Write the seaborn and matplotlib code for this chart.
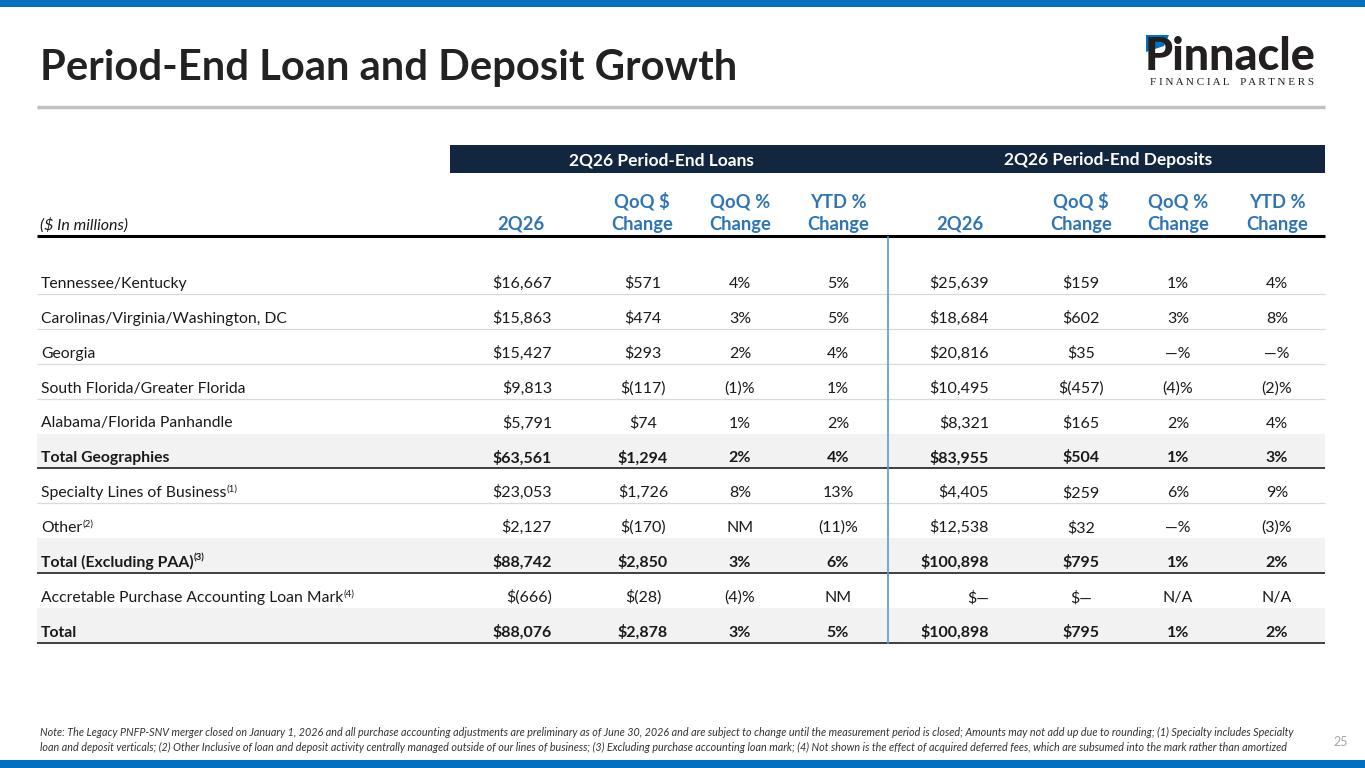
import matplotlib.pyplot as plt
import seaborn as sns
from matplotlib.patches import Rectangle, Polygon

# Table data
row_labels = ['Tennessee/Kentucky', 'Carolinas/Virginia/Washington, DC', 'Georgia',
              'South Florida/Greater Florida', 'Alabama/Florida Panhandle', 'Total Geographies',
              'Specialty Lines of Business', 'Other', 'Total (Excluding PAA)',
              'Accretable Purchase Accounting Loan Mark', 'Total']
row_notes = ['', '', '', '', '', '', '(1)', '(2)', '(3)', '(4)', '']
bold_rows = [5, 8, 10]

loans_2q26 = [16667, 15863, 15427, 9813, 5791, 63561, 23053, 2127, 88742, -666, 88076]
loans_qoq_dollar = [571, 474, 293, -117, 74, 1294, 1726, -170, 2850, -28, 2878]
loans_qoq_pct = [4, 3, 2, -1, 1, 2, 8, 'NM', 3, -4, 3]
loans_ytd_pct = [5, 5, 4, 1, 2, 4, 13, -11, 6, 'NM', 5]

dep_2q26 = [25639, 18684, 20816, 10495, 8321, 83955, 4405, 12538, 100898, 0, 100898]
dep_qoq_dollar = [159, 602, 35, -457, 165, 504, 259, 32, 795, 0, 795]
dep_qoq_pct = [1, 3, 0, -4, 2, 1, 6, 0, 1, 'N/A', 1]
dep_ytd_pct = [4, 8, 0, -2, 4, 3, 9, -3, 2, 'N/A', 2]

col_headers = ['2Q26', 'QoQ $\nChange', 'QoQ %\nChange', 'YTD %\nChange'] * 2

note_text = ("Note: The Legacy PNFP-SNV merger closed on January 1, 2026 and all purchase accounting adjustments are preliminary as of June 30, 2026 and are subject to change until the measurement period is closed; Amounts may not add up due to rounding; (1) Specialty includes Specialty\n"
             "loan and deposit verticals; (2) Other Inclusive of loan and deposit activity centrally managed outside of our lines of business; (3) Excluding purchase accounting loan mark; (4) Not shown is the effect of acquired deferred fees, which are subsumed into the mark rather than amortized")


def fmt_dollar(v):
    if isinstance(v, str):
        return v
    if v == 0:
        return '$\u2014'
    if v < 0:
        return '$({:,})'.format(-v)
    return '${:,}'.format(v)


def fmt_pct(v):
    if isinstance(v, str):
        return v
    if v == 0:
        return '\u2014%'
    if v < 0:
        return '({})%'.format(-v)
    return '{}%'.format(v)


sns.set_theme(style='white')
plt.rcParams['font.family'] = ['Lato', 'DejaVu Sans']

BLUE = '#0070C0'
NAVY = '#12263F'
HEAD_BLUE = '#2E75B6'
TXT = '#1A1A1A'

fig = plt.figure(figsize=(13.65, 7.68), dpi=100)
ax = fig.add_axes([0, 0, 1, 1])
ax.set_xlim(0, 1365)
ax.set_ylim(768, 0)
ax.axis('off')

# top and bottom bars
ax.add_patch(Rectangle((0, 0), 1365, 7, color=BLUE, lw=0))
ax.add_patch(Rectangle((0, 760), 1365, 8, color=BLUE, lw=0))

# title
ax.text(40, 80, 'Period-End Loan and Deposit Growth', fontsize=30.1, fontweight='bold',
        color='#222222', va='baseline', ha='left')
ax.plot([37, 1325], [107, 107], color='#C0C0C0', lw=2.5, solid_capstyle='butt')

# logo
ax.text(1145, 70, 'Pinnacle', fontsize=32.3, fontweight='black', color='#231F20',
        va='baseline', ha='left')
ax.add_patch(Polygon([(1146, 35), (1169, 35), (1164, 46), (1146, 52)], color=BLUE, lw=0))
ax.text(1232, 85, 'F I N A N C I A L    P A R T N E R S', fontsize=8, color='#231F20',
        family='Liberation Serif', ha='center', va='baseline')

# table geometry
x_left, x_right = 37, 1325
x_div = 888
row_top = 259
row_h = 34.9
bottoms = [row_top + row_h * (i + 1) for i in range(len(row_labels))]

# header band
ax.add_patch(Rectangle((450, 145), x_right - 450, 28, color=NAVY, lw=0))
ax.text((450 + x_div) / 2 - 8, 165, '2Q26 Period-End Loans', color='white', fontsize=12.5,
        fontweight='bold', ha='center', va='baseline')
ax.text((x_div + x_right) / 2 + 2, 165, '2Q26 Period-End Deposits', color='white', fontsize=12.5,
        fontweight='bold', ha='center', va='baseline')

ax.text(40, 230, '($ In millions)', fontsize=11.5, style='italic', color=TXT,
        va='baseline', ha='left')

head_x = [521, 642, 740, 838, 960, 1081, 1178, 1277]
for hx, h in zip(head_x, col_headers):
    ax.text(hx, 230, h, color=HEAD_BLUE, fontsize=13.2, fontweight='bold',
            ha='center', va='baseline', linespacing=1.38, multialignment='center')

ax.plot([x_left, x_right], [236, 236], color='black', lw=2.2, solid_capstyle='butt')

# shading and separators
for i, b in enumerate(bottoms):
    top = b - row_h
    if i in bold_rows:
        ax.add_patch(Rectangle((x_left, top), x_right - x_left, row_h, color='#F2F2F2', lw=0))
        ax.plot([x_left, x_right], [b, b], color='#3F3F3F', lw=1.4, solid_capstyle='butt')
    elif i + 1 in bold_rows:
        pass
    else:
        ax.plot([x_left, x_right], [b, b], color='#D9D9D9', lw=0.9, solid_capstyle='butt')

ax.plot([x_div, x_div], [237, bottoms[-1]], color='#5B9BD5', lw=1.2)

# cells
columns = [
    (loans_2q26, fmt_dollar, 552, 'right'),
    (loans_qoq_dollar, fmt_dollar, 643, 'center'),
    (loans_qoq_pct, fmt_pct, 740, 'center'),
    (loans_ytd_pct, fmt_pct, 838, 'center'),
    (dep_2q26, fmt_dollar, 989, 'right'),
    (dep_qoq_dollar, fmt_dollar, 1081, 'center'),
    (dep_qoq_pct, fmt_pct, 1178, 'center'),
    (dep_ytd_pct, fmt_pct, 1277, 'center'),
]

for i, (lab, note, b) in enumerate(zip(row_labels, row_notes, bottoms)):
    y = b - 6
    fw = 'bold' if i in bold_rows else 'normal'
    t = ax.text(41, y, lab, fontsize=11.3, fontweight=fw, color=TXT, va='baseline', ha='left')
    if note:
        ax.annotate(note, xy=(1, 1), xycoords=t, xytext=(0.3, 1.2), textcoords='offset points',
                    fontsize=7, fontweight=fw, color=TXT, va='top', ha='left')
    for vals, f, cx, ha in columns:
        ax.text(cx, y, f(vals[i]), fontsize=11.5, fontweight=fw, color=TXT,
                va='baseline', ha=ha)

# footnote and page number
ax.text(40, 751, note_text, fontsize=7.75, style='italic', color='#333333',
        va='baseline', ha='left', linespacing=1.45)
ax.text(1341, 746, '25', fontsize=9, color='#A6A6A6', va='baseline', ha='center')

fig.savefig('out.png', dpi=100)
